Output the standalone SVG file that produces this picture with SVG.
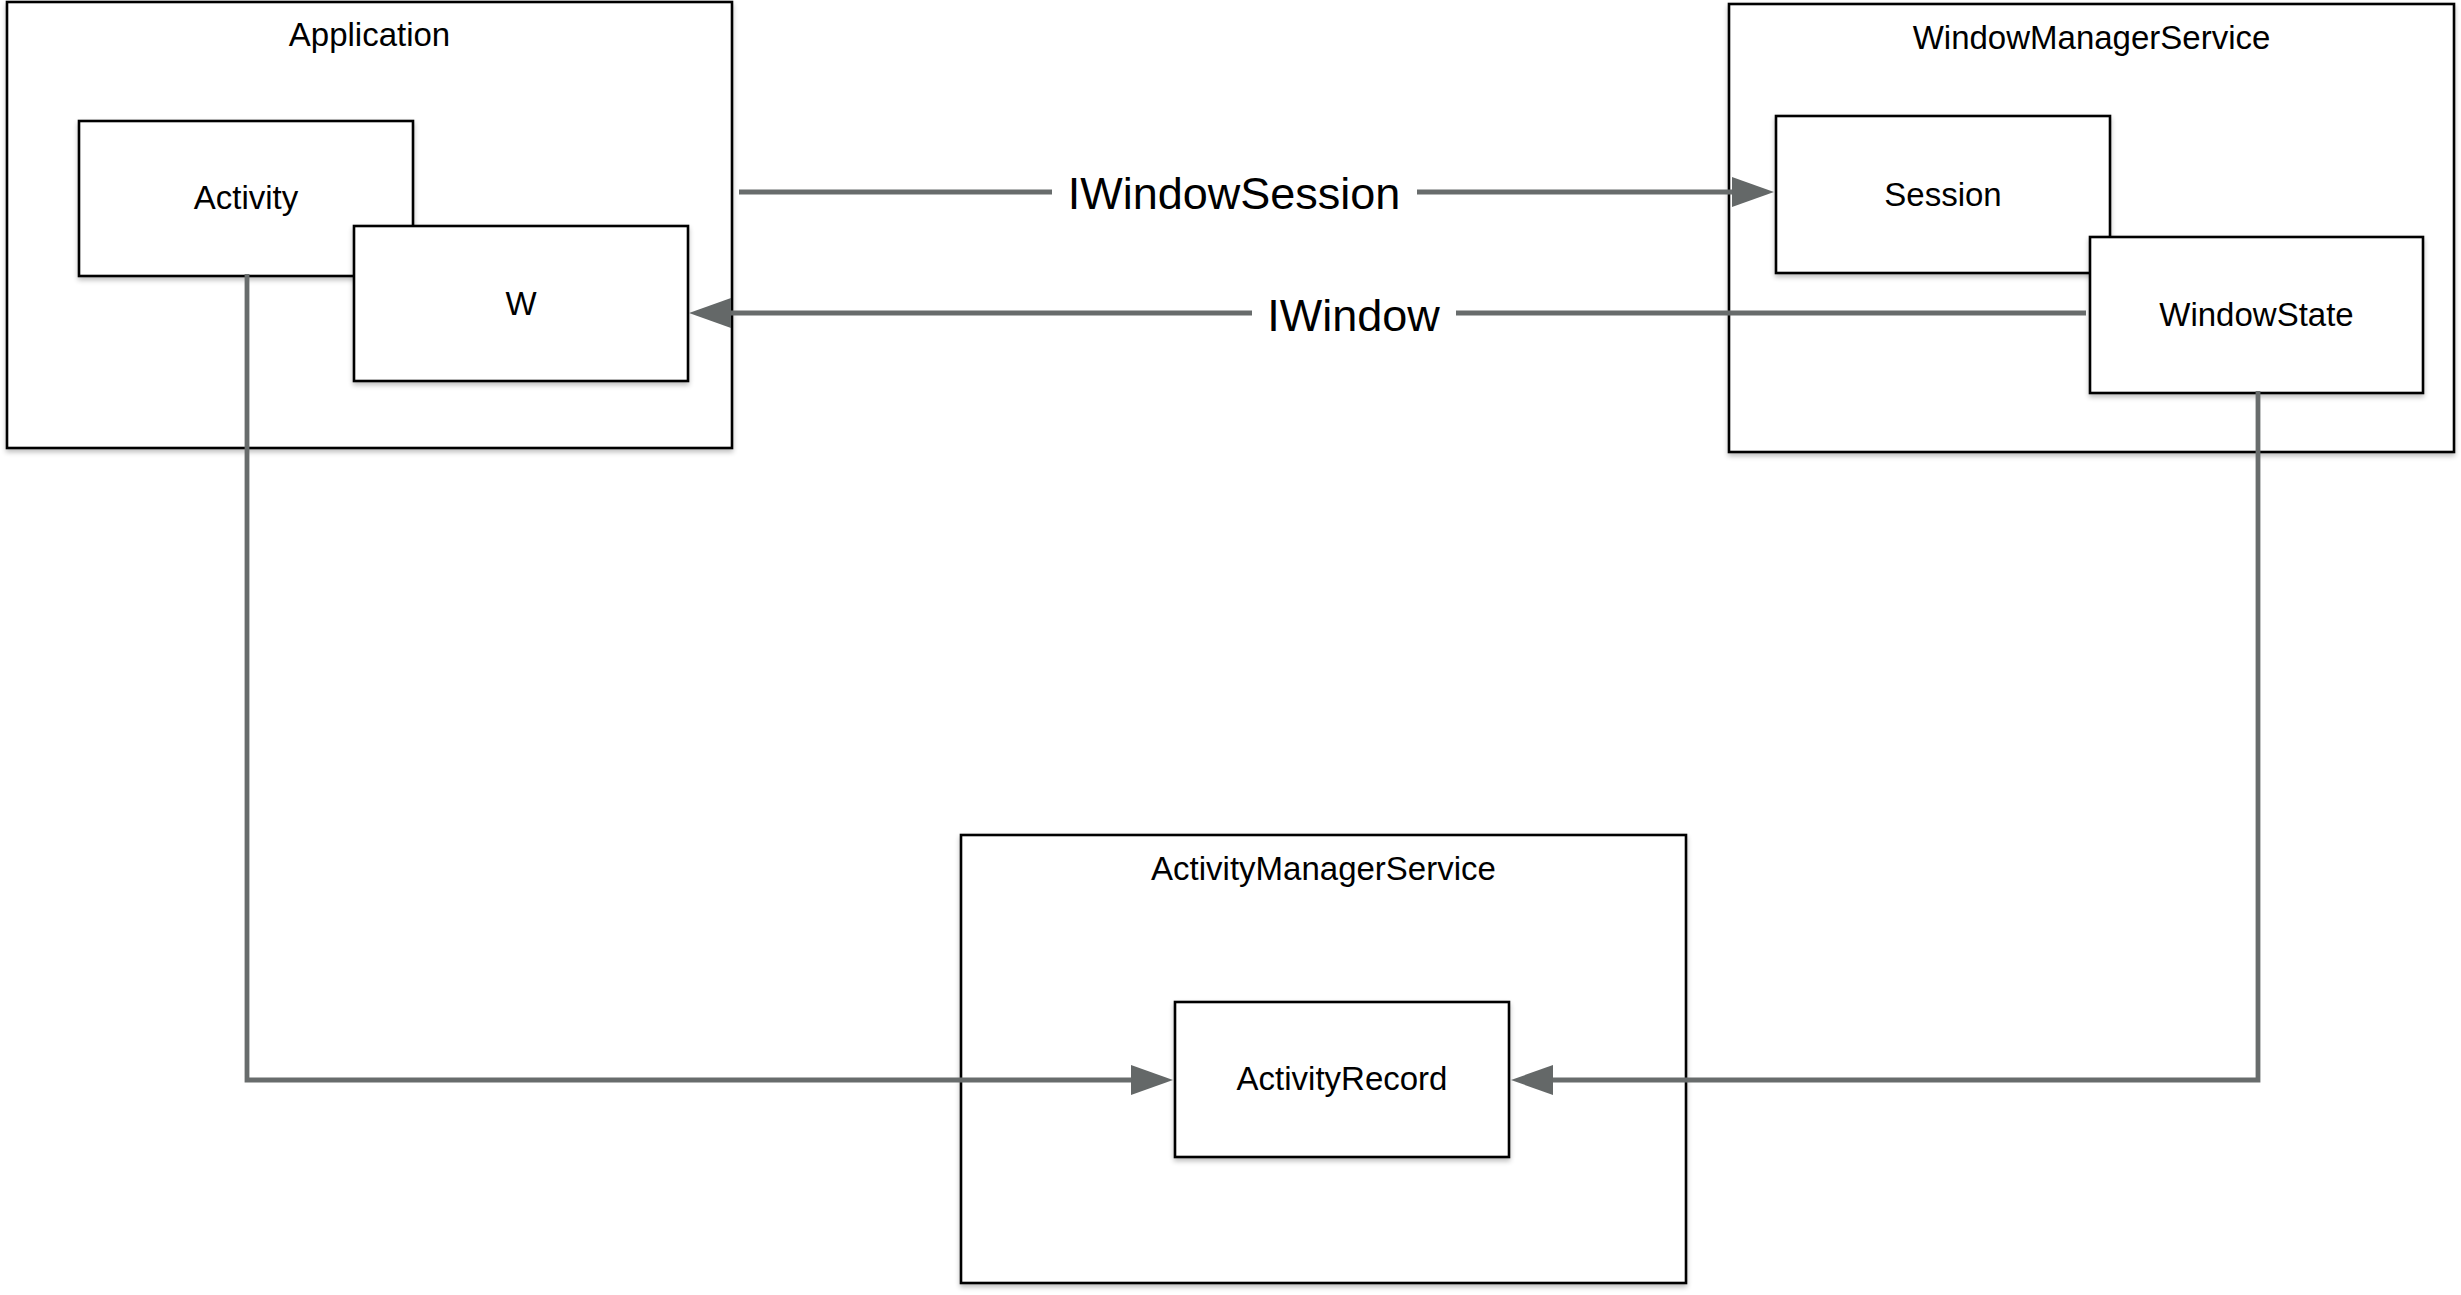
<svg xmlns="http://www.w3.org/2000/svg" width="2461" height="1295" viewBox="0 0 2461 1295">
  <style>
    .box { fill: #ffffff; stroke: #000000; stroke-width: 2.6; filter: url(#shadow); }
    .lbl { font-family: "Liberation Sans", Arial, Helvetica, sans-serif; font-size: 33px; fill: #000000; text-anchor: middle; }
    .clbl { font-family: "Liberation Sans", Arial, Helvetica, sans-serif; font-size: 45px; fill: #000000; text-anchor: middle; }
    .conn { fill: none; stroke: #686c6c; stroke-width: 4.8; marker-end: url(#arrow); }
  </style>
  <defs>
    <filter id="shadow" x="-5%" y="-5%" width="110%" height="115%">
      <feGaussianBlur in="SourceAlpha" stdDeviation="2.5"/>
      <feOffset dx="0" dy="3" result="b"/>
      <feComponentTransfer><feFuncA type="linear" slope="0.25"/></feComponentTransfer>
      <feMerge><feMergeNode/><feMergeNode in="SourceGraphic"/></feMerge>
    </filter>
    <marker id="arrow" markerUnits="userSpaceOnUse" markerWidth="44" markerHeight="32" refX="0" refY="15" orient="auto">
      <path d="M0,0 L42,15 L0,30 Z" fill="#646868"/>
    </marker>
  </defs>

  <rect width="2461" height="1295" fill="#ffffff"/>

  <g id="application">
    <rect class="box" x="7" y="2" width="725" height="446"/>
    <text class="lbl" x="369.5" y="46">Application</text>
  </g>
  <g id="activity">
    <rect class="box" x="79" y="121" width="334" height="155"/>
    <text class="lbl" x="246" y="209">Activity</text>
  </g>
  <g id="w">
    <rect class="box" x="354" y="226" width="334" height="155"/>
    <text class="lbl" x="521" y="315">W</text>
  </g>

  <g id="windowmanagerservice">
    <rect class="box" x="1729" y="4" width="725" height="448"/>
    <text class="lbl" x="2091.5" y="49">WindowManagerService</text>
  </g>
  <g id="session">
    <rect class="box" x="1776" y="116" width="334" height="157"/>
    <text class="lbl" x="1943" y="206">Session</text>
  </g>
  <g id="windowstate">
    <rect class="box" x="2090" y="237" width="333" height="156"/>
    <text class="lbl" x="2256.5" y="326">WindowState</text>
  </g>

  <g id="activitymanagerservice">
    <rect class="box" x="961" y="835" width="725" height="448"/>
    <text class="lbl" x="1323.5" y="880">ActivityManagerService</text>
  </g>
  <g id="activityrecord">
    <rect class="box" x="1175" y="1002" width="334" height="155"/>
    <text class="lbl" x="1342" y="1090">ActivityRecord</text>
  </g>

  <g id="connectors">
    <path class="conn" d="M739 192 H1052 M1417 192 H1732"/>
    <text class="clbl" x="1234" y="209">IWindowSession</text>
    <path class="conn" d="M2086 313 H1456 M1252 313 H731"/>
    <text class="clbl" x="1353.5" y="331">IWindow</text>
    <path class="conn" d="M247 274 V1080 H1131"/>
    <path class="conn" d="M2258 391 V1080 H1553"/>
  </g>
</svg>
